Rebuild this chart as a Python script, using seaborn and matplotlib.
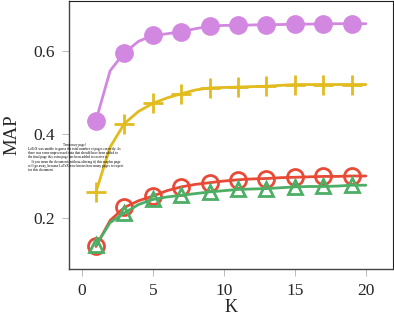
import numpy as np
import matplotlib
matplotlib.use("Agg")
import matplotlib.pyplot as plt
import seaborn as sns

# ---------------- data ----------------
k_values = list(range(1, 21))

map_purple = [0.433, 0.552, 0.595, 0.622, 0.636, 0.640, 0.645, 0.652, 0.658, 0.660,
              0.660, 0.661, 0.662, 0.662, 0.663, 0.663, 0.664, 0.664, 0.664, 0.664]
map_yellow = [0.263, 0.370, 0.426, 0.455, 0.474, 0.487, 0.497, 0.506, 0.511, 0.512,
              0.513, 0.514, 0.515, 0.517, 0.519, 0.519, 0.519, 0.519, 0.519, 0.519]
map_red = [0.133, 0.195, 0.226, 0.242, 0.253, 0.266, 0.275, 0.281, 0.285, 0.289,
           0.292, 0.294, 0.295, 0.297, 0.298, 0.299, 0.300, 0.300, 0.301, 0.301]
map_green = [0.136, 0.190, 0.213, 0.233, 0.245, 0.251, 0.255, 0.259, 0.263, 0.266,
             0.269, 0.270, 0.271, 0.273, 0.275, 0.276, 0.276, 0.277, 0.279, 0.279]

x_ticks = [0, 5, 10, 15, 20]
y_ticks = [0.2, 0.4, 0.6]

temp_title = "Temporary page!"
temp_text = ("LaTeX was unable to guess the total number of pages correctly. As\n"
             "there was some unprocessed data that should have been added to\n"
             "the final page this extra page has been added to receive it.\n"
             "    If you rerun the document (without altering it) this surplus page\n"
             "will go away, because LaTeX now knows how many pages to expect\n"
             "for this document.")

# ---------------- plot ----------------
sns.set_style("white")
plt.rcParams["font.family"] = ["Liberation Serif", "DejaVu Serif"]

fig = plt.figure(figsize=(3.94, 3.17), dpi=100)
ax = fig.add_axes([0.175, 0.151, 0.822, 0.847])

sns.lineplot(x=k_values, y=map_purple, color="#d287e0", lw=2.0, marker="o",
             markersize=13.5, markevery=(0, 2), markeredgewidth=0, ax=ax)
sns.lineplot(x=k_values, y=map_yellow, color="#e2bb1f", lw=2.0, marker="+",
             markersize=14, markevery=(0, 2), markeredgewidth=2.0,
             markeredgecolor="#e2bb1f", ax=ax)
sns.lineplot(x=k_values, y=map_red, color="#e84a36", lw=2.0, marker="o",
             markersize=11.5, markevery=(0, 2), markerfacecolor="none",
             markeredgewidth=2.0, markeredgecolor="#e84a36", ax=ax)
sns.lineplot(x=k_values, y=map_green, color="#4dae66", lw=2.0, marker="^",
             markersize=10.5, markevery=(0, 2), markerfacecolor="none",
             markeredgewidth=2.0, markeredgecolor="#4dae66", ax=ax)

ax.set_xlim(-0.9, 21.9)
ax.set_ylim(0.079, 0.719)
ax.set_xticks(x_ticks)
ax.set_yticks(y_ticks)
ax.set_xticklabels([str(t) for t in x_ticks])
ax.set_yticklabels([f"{t:.1f}" for t in y_ticks])
ax.tick_params(axis="both", length=5, width=0.7, color="#bbbbbb",
               labelsize=12.5, direction="out", bottom=True, left=True, pad=5)
ax.set_xlabel("K", fontsize=13, labelpad=0)
ax.set_ylabel("MAP", fontsize=13.5, labelpad=9)

for side in ["top", "right"]:
    ax.spines[side].set_color("#222222")
    ax.spines[side].set_linewidth(0.8)
for side in ["left", "bottom"]:
    ax.spines[side].set_color("#444444")
    ax.spines[side].set_linewidth(1.0)

fig.text(0.19, 0.548, temp_title, fontsize=2.4, va="top", ha="center", color="black")
fig.text(0.072, 0.537, temp_text, fontsize=2.5, va="top", ha="left",
         linespacing=1.1, color="black")

fig.savefig("out.png", dpi=100)
